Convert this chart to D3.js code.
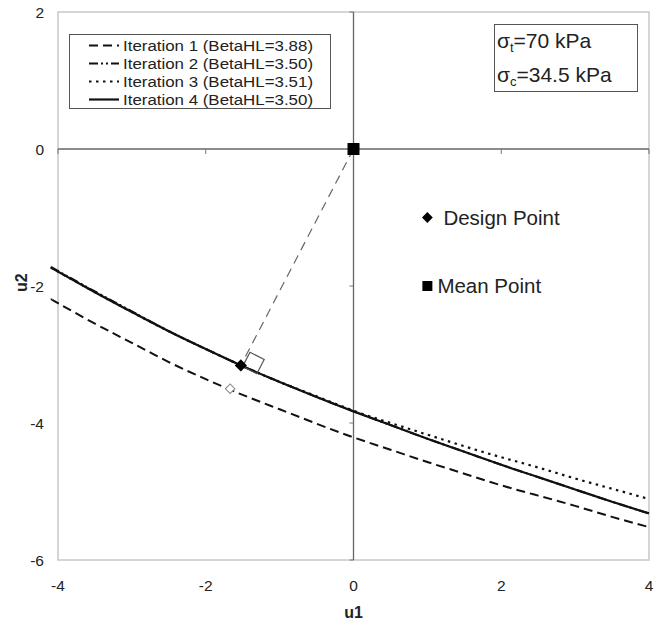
<!DOCTYPE html>
<html><head><meta charset="utf-8">
<script src="https://cdn.jsdelivr.net/npm/d3@7"></script>
<style>
html,body{margin:0;padding:0;background:#fff;}
svg{display:block;font-family:"Liberation Sans",Arial,sans-serif;}
</style></head>
<body>
<svg id="chart" width="668" height="622"></svg>
<script>
// ---- data ----
const u1Grid = [-4.08,-4,-3.5,-3,-2.5,-2,-1.5,-1,-0.5,0,0.5,1,1.5,2,2.5,3,3.5,4];
const iter1 = [-2.20,-2.25,-2.55,-2.83,-3.11,-3.36,-3.59,-3.80,-4.01,-4.21,-4.39,-4.57,-4.74,-4.91,-5.06,-5.21,-5.37,-5.52];
const iter2 = [-1.73,-1.78,-2.08,-2.37,-2.66,-2.92,-3.17,-3.40,-3.62,-3.83,-4.03,-4.23,-4.42,-4.61,-4.79,-4.97,-5.15,-5.32];
const iter3 = [-1.74,-1.79,-2.09,-2.38,-2.66,-2.92,-3.17,-3.40,-3.61,-3.82,-4.00,-4.17,-4.34,-4.50,-4.65,-4.81,-4.96,-5.11];
const iter4 = [-1.74,-1.79,-2.09,-2.38,-2.66,-2.92,-3.17,-3.40,-3.62,-3.83,-4.03,-4.23,-4.42,-4.61,-4.79,-4.97,-5.15,-5.32];
const seriesNames = ["Iteration 1 (BetaHL=3.88)","Iteration 2 (BetaHL=3.50)","Iteration 3 (BetaHL=3.51)","Iteration 4 (BetaHL=3.50)"];
const meanPoint = [0, 0];
const designPoint = [-1.525, -3.16];
const designPoint1 = [-1.67, -3.50];
const markerLabels = ["Design Point","Mean Point"];
const markerLabelPos = [[1,-1],[1,-2]];
const xTicks = [-4,-2,0,2,4];
const yTicks = [-6,-4,-2,0,2];
const xTitle = "u1", yTitle = "u2";

// ---- layout ----
const svg = d3.select("#chart");
const x = d3.scaleLinear().domain([-4,4]).range([58,649]);
const y = d3.scaleLinear().domain([-6,2]).range([560,12]);

// frame
svg.append("rect").attr("x",x(-4)).attr("y",y(2)).attr("width",x(4)-x(-4)).attr("height",y(-6)-y(2))
  .attr("fill","none").attr("stroke","#c8c8c8").attr("stroke-width",1.5);

// zero axes
svg.append("line").attr("x1",x(-4)).attr("x2",x(4)).attr("y1",y(0)).attr("y2",y(0))
  .attr("stroke","#666").attr("stroke-width",1.3);
svg.append("line").attr("x1",x(0)).attr("x2",x(0)).attr("y1",y(2)).attr("y2",y(-6))
  .attr("stroke","#666").attr("stroke-width",1.3);
svg.selectAll(".xt").data(xTicks.filter(d=>d!==0)).enter().append("line")
  .attr("x1",d=>x(d)).attr("x2",d=>x(d)).attr("y1",y(0)).attr("y2",y(0)+5)
  .attr("stroke","#777").attr("stroke-width",1);
svg.selectAll(".yt").data(yTicks.filter(d=>d!==0)).enter().append("line")
  .attr("x1",x(0)-4).attr("x2",x(0)).attr("y1",d=>y(d)).attr("y2",d=>y(d))
  .attr("stroke","#777").attr("stroke-width",1);

// tick labels
svg.selectAll(".xl").data(xTicks).enter().append("text")
  .attr("x",d=>x(d)).attr("y",591).attr("text-anchor","middle")
  .attr("font-size",15.5).attr("fill","#222").text(d=>d);
svg.selectAll(".yl").data(yTicks).enter().append("text")
  .attr("x",44).attr("y",d=>y(d)+5.5).attr("text-anchor","end")
  .attr("font-size",15.5).attr("fill","#222").text(d=>d);
svg.append("text").attr("x",x(0)).attr("y",618).attr("text-anchor","middle")
  .attr("font-size",16).attr("font-weight","bold").attr("fill","#222").text(xTitle);
svg.append("text").attr("transform",`translate(27,${y(-1.95)}) rotate(-90)`).attr("text-anchor","middle")
  .attr("font-size",16).attr("font-weight","bold").attr("fill","#222").text(yTitle);

// curves
const styles = [
  {dash:"9,5", w:2},
  {dash:"9,3,2,3,2,3", w:2},
  {dash:"2.5,4.5", w:2.2},
  {dash:null, w:2.2}
];
const allSeries = [iter1, iter2, iter3, iter4];
const line = d3.line().x(d=>x(d[0])).y(d=>y(d[1])).curve(d3.curveNatural);
[0,2,1,3].forEach(i=>{
  const pts = u1Grid.map((u,k)=>[u, allSeries[i][k]]);
  const p = svg.append("path").attr("d",line(pts)).attr("fill","none")
    .attr("stroke","#111").attr("stroke-width",styles[i].w);
  if (styles[i].dash) p.attr("stroke-dasharray",styles[i].dash);
});

// line from mean point to design point
svg.append("line").attr("x1",x(meanPoint[0])).attr("y1",y(meanPoint[1]))
  .attr("x2",x(designPoint[0])).attr("y2",y(designPoint[1]))
  .attr("stroke","#666").attr("stroke-width",1.2).attr("stroke-dasharray","9,6");

// right angle marker
(function(){
  const px = x(designPoint[0]), py = y(designPoint[1]);
  const dx = x(meanPoint[0]) - px, dy = y(meanPoint[1]) - py;
  const L = Math.hypot(dx,dy);
  const d1 = [dx/L, dy/L], d2 = [-dy/L, dx/L];
  const s = 16, o = 2;
  const a = [px + o*d2[0], py + o*d2[1]];
  const pts = [
    [a[0] + s*d1[0], a[1] + s*d1[1]],
    [a[0] + s*d1[0] + s*d2[0], a[1] + s*d1[1] + s*d2[1]],
    [a[0] + s*d2[0], a[1] + s*d2[1]]
  ];
  svg.append("polyline").attr("points",[a].concat(pts).concat([a]).map(p=>p.join(",")).join(" "))
    .attr("fill","none").attr("stroke","#555").attr("stroke-width",1.2);
})();

// markers (diamond = square rotated 45deg)
const sq = d3.symbol().type(d3.symbolSquare);
svg.append("path").attr("d",sq.size(45)()).attr("transform",`translate(${x(designPoint1[0])},${y(designPoint1[1])}) rotate(45)`)
  .attr("fill","#fff").attr("stroke","#888").attr("stroke-width",1);
svg.append("path").attr("d",sq.size(75)()).attr("transform",`translate(${x(designPoint[0])},${y(designPoint[1])}) rotate(45)`)
  .attr("fill","#000");
svg.append("rect").attr("x",x(meanPoint[0])-6).attr("y",y(meanPoint[1])-6).attr("width",12).attr("height",12).attr("fill","#000");

// in-plot marker labels
svg.append("path").attr("d",sq.size(58)()).attr("transform",`translate(${x(markerLabelPos[0][0])},${y(markerLabelPos[0][1])}) rotate(45)`).attr("fill","#000");
svg.append("rect").attr("x",x(markerLabelPos[1][0])-5).attr("y",y(markerLabelPos[1][1])-5).attr("width",10).attr("height",10).attr("fill","#000");
svg.append("text").attr("x",x(markerLabelPos[0][0])+16).attr("y",y(markerLabelPos[0][1])+7)
  .attr("font-size",20.5).attr("fill","#222").text(markerLabels[0]);
svg.append("text").attr("x",x(markerLabelPos[1][0])+10).attr("y",y(markerLabelPos[1][1])+7)
  .attr("font-size",20.5).attr("fill","#222").text(markerLabels[1]);

// legend
const lg = svg.append("g");
lg.append("rect").attr("x",69.5).attr("y",34.5).attr("width",261).attr("height",74)
  .attr("fill","#fff").attr("stroke","#555").attr("stroke-width",1);
seriesNames.forEach((n,i)=>{
  const yy = 45.5 + i*18;
  const l = lg.append("line").attr("x1",89).attr("x2",119).attr("y1",yy).attr("y2",yy)
    .attr("stroke","#111").attr("stroke-width",styles[i].w);
  if (styles[i].dash) l.attr("stroke-dasharray",styles[i].dash);
  lg.append("text").attr("x",123).attr("y",yy+5.5).attr("font-size",15.5)
    .attr("textLength",190).attr("lengthAdjust","spacingAndGlyphs").attr("fill","#222").text(n);
});

// sigma box
const sb = svg.append("g");
sb.append("rect").attr("x",494.5).attr("y",24.5).attr("width",143).attr("height",67)
  .attr("fill","#fff").attr("stroke","#555").attr("stroke-width",1);
const t1 = sb.append("text").attr("x",497).attr("y",48).attr("font-size",21).attr("fill","#222");
t1.append("tspan").text("σ");
t1.append("tspan").attr("font-size",13).attr("dy",4).text("t");
t1.append("tspan").attr("dy",-4).text("=70 kPa");
const t2 = sb.append("text").attr("x",497).attr("y",82).attr("font-size",21).attr("fill","#222");
t2.append("tspan").text("σ");
t2.append("tspan").attr("font-size",13).attr("dy",4).text("c");
t2.append("tspan").attr("dy",-4).text("=34.5 kPa");
</script>
</body></html>
